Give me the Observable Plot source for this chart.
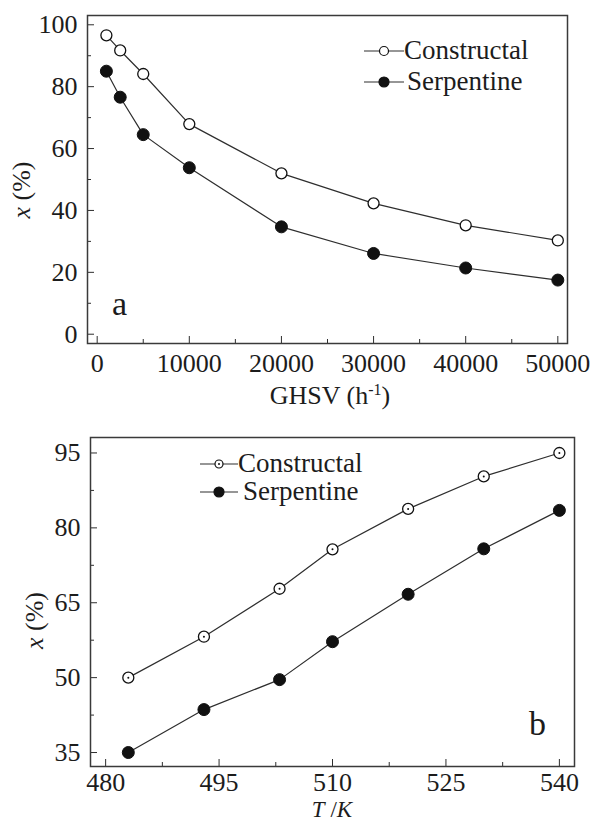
<!DOCTYPE html>
<html>
<head>
<meta charset="utf-8">
<script src="https://cdn.jsdelivr.net/npm/d3@7"></script>
<script src="https://cdn.jsdelivr.net/npm/@observablehq/plot@0.6"></script>
<style>
  body { margin: 0; background: #fff; }
  #chart svg { display: block; }
  #chart svg, #chart svg text, #chart svg tspan {
    font-family: "Liberation Serif", "Times New Roman", Times, "Nimbus Roman", "Noto Serif", FreeSerif, "DejaVu Serif", serif !important;
  }
</style>
</head>
<body>
<div id="chart"></div>
<script>
// ---------- Panel a: conversion vs GHSV ----------
const ghsv = [1000, 2500, 5000, 10000, 20000, 30000, 40000, 50000];
const ghsvConstructal = [96.6, 91.7, 84.1, 67.9, 52.0, 42.3, 35.2, 30.3];
const ghsvSerpentine = [85.0, 76.6, 64.5, 53.8, 34.7, 26.1, 21.4, 17.5];
const ghsvTicks = [0, 10000, 20000, 30000, 40000, 50000];
const ghsvMinorTicks = [5000, 15000, 25000, 35000, 45000];
const convTicksA = [0, 20, 40, 60, 80, 100];
const convMinorTicksA = [10, 30, 50, 70, 90];

// ---------- Panel b: conversion vs temperature ----------
const temps = [483, 493, 503, 510, 520, 530, 540];
const tempConstructal = [50.0, 58.2, 67.8, 75.7, 83.8, 90.3, 95.0];
const tempSerpentine = [35.0, 43.6, 49.6, 57.2, 66.7, 75.8, 83.5];
const tempTicks = [480, 495, 510, 525, 540];
const tempMinorTicks = [487.5, 502.5, 517.5, 532.5];
const convTicksB = [35, 50, 65, 80, 95];
const convMinorTicksB = [42.5, 57.5, 72.5, 87.5];

const seriesNames = ["Constructal", "Serpentine"];
const panelLabels = ["a", "b"];

const rowsA = ghsv.map((g, i) => ({x: g, c: ghsvConstructal[i], s: ghsvSerpentine[i]}));
const rowsB = temps.map((t, i) => ({x: t, c: tempConstructal[i], s: tempSerpentine[i]}));

const FONT = '"Liberation Serif", "Times New Roman", Times, "Nimbus Roman", "Noto Serif", FreeSerif, "DejaVu Serif", serif';
const INK = "#1c1c1c";
const LINE = "#2e2e2e";

function overlay(draw) {
  return (index, scales, values, dims) => {
    const g = d3.create("svg:g").attr("fill", INK).attr("text-anchor", "start");
    const f = {
      left: dims.marginLeft,
      right: dims.width - dims.marginRight,
      top: dims.marginTop,
      bottom: dims.height - dims.marginBottom
    };
    draw(g, f);
    return g.node();
  };
}

function legendMark(opt) {
  return overlay((g, f) => {
    const x0 = opt.fromRight ? f.right - opt.dx : f.left + opt.dx;
    opt.rows.forEach((r, i) => {
      const y = f.top + opt.dy[i];
      g.append("line").attr("x1", x0).attr("x2", x0 + opt.lineLen)
        .attr("y1", y).attr("y2", y).attr("stroke", LINE).attr("stroke-width", 1.2);
      g.append("circle").attr("cx", x0 + opt.lineLen / 2).attr("cy", y).attr("r", r.r)
        .attr("fill", r.filled ? "#111" : "#fff").attr("stroke", "#111").attr("stroke-width", 1.2);
      if (r.centerDot) g.append("circle").attr("cx", x0 + opt.lineLen / 2).attr("cy", y).attr("r", 1).attr("fill", "#111");
      g.append("text").attr("x", x0 + opt.lineLen + r.gap).attr("y", y + 8)
        .attr("text-anchor", "start").attr("font-size", opt.fontSize).text(r.label);
    });
  });
}

function titles(opt) {
  return overlay((g, f) => {
    const xt = g.append("text").attr("x", (f.left + f.right) / 2 + opt.xTitleDx)
      .attr("y", f.bottom + opt.xTitleDy).attr("text-anchor", "middle").attr("font-size", opt.xTitleSize);
    opt.xTitle(xt);
    const yc = (f.top + f.bottom) / 2 + opt.yTitleDy;
    const yt = g.append("text").attr("transform", `translate(${opt.yTitleX},${yc}) rotate(-90)`)
      .attr("text-anchor", "middle").attr("font-size", 26);
    yt.append("tspan").attr("font-style", "italic").text("x");
    yt.append("tspan").text(" (%)");
    g.append("text").attr("x", opt.letterRight ? f.right - opt.letterDx : f.left + opt.letterDx)
      .attr("y", f.bottom - opt.letterDy).attr("text-anchor", opt.letterRight ? "end" : "start")
      .attr("font-size", 34).text(opt.letter);
  });
}

function axes(xTicks, xMinor, yTicks, yMinor, xPad) {
  return [
    Plot.axisX({ticks: xTicks, tickSize: -7, tickPadding: xPad, tickFormat: d => String(d), label: null, fontSize: 26, stroke: LINE}),
    Plot.axisX({ticks: xMinor, tickSize: -4, tickFormat: () => "", label: null, stroke: LINE}),
    Plot.axisY({ticks: yTicks, tickSize: -7, tickPadding: 17, tickFormat: d => String(d), label: null, fontSize: 26, stroke: LINE}),
    Plot.axisY({ticks: yMinor, tickSize: -4, tickFormat: () => "", label: null, stroke: LINE})
  ];
}

function seriesMarks(rows, centerDot) {
  const m = [
    Plot.line(rows, {x: "x", y: "c", stroke: LINE, strokeWidth: 1.2}),
    Plot.line(rows, {x: "x", y: "s", stroke: LINE, strokeWidth: 1.2}),
    Plot.dot(rows, {x: "x", y: "c", r: 5.5, fill: "#fff", stroke: "#111", strokeWidth: 1.3}),
    Plot.dot(rows, {x: "x", y: "s", r: 6, fill: "#111", stroke: "#111", strokeWidth: 1})
  ];
  if (centerDot) m.push(Plot.dot(rows, {x: "x", y: "c", r: 1, fill: "#111"}));
  return m;
}

const style = {fontFamily: FONT, fontSize: "26px", color: INK, background: "#fff", overflow: "visible"};

const plotA = Plot.plot({
  width: 594, height: 410,
  marginLeft: 87, marginRight: 27, marginTop: 15, marginBottom: 67,
  style,
  x: {domain: [-1050, 51050]},
  y: {domain: [-3, 103]},
  marks: [
    ...axes(ghsvTicks, ghsvMinorTicks, convTicksA, convMinorTicksA, 17),
    ...seriesMarks(rowsA, false),
    Plot.frame({stroke: "#3a3a3a", strokeWidth: 1.5}),
    legendMark({fromRight: true, dx: 203, dy: [36, 67], lineLen: 40, fontSize: 27,
      rows: [
        {label: seriesNames[0], filled: false, r: 4.5, gap: 0},
        {label: seriesNames[1], filled: true, r: 5, gap: 3}
      ]}),
    titles({
      xTitleDx: 3, xTitleDy: 61, xTitleSize: 26,
      xTitle: t => { t.append("tspan").text("GHSV (h"); t.append("tspan").attr("font-size", 16).attr("dy", -9).text("-1"); t.append("tspan").attr("dy", 9).text(")"); },
      yTitleX: 30, yTitleDy: 11,
      letter: panelLabels[0], letterRight: false, letterDx: 25, letterDy: 28
    })
  ]
});

const plotB = Plot.plot({
  width: 594, height: 412,
  marginLeft: 90, marginRight: 20, marginTop: 27, marginBottom: 56,
  style,
  x: {domain: [478, 542]},
  y: {domain: [32.2, 98.1]},
  marks: [
    ...axes(tempTicks, tempMinorTicks, convTicksB, convMinorTicksB, 13),
    ...seriesMarks(rowsB, true),
    Plot.frame({stroke: "#3a3a3a", strokeWidth: 1.5}),
    legendMark({fromRight: false, dx: 110, dy: [27, 55], lineLen: 38, fontSize: 27,
      rows: [
        {label: seriesNames[0], filled: false, r: 4, centerDot: true, gap: 0},
        {label: seriesNames[1], filled: true, r: 5, gap: 5}
      ]}),
    titles({
      xTitleDx: 0, xTitleDy: 51, xTitleSize: 23,
      xTitle: t => { t.append("tspan").attr("font-style", "italic").text("T"); t.append("tspan").text(" /"); t.append("tspan").attr("font-style", "italic").text("K"); },
      yTitleX: 43, yTitleDy: 19,
      letter: panelLabels[1], letterRight: true, letterDx: 28, letterDy: 31
    })
  ]
});

document.getElementById("chart").append(plotA, plotB);
</script>
</body>
</html>
